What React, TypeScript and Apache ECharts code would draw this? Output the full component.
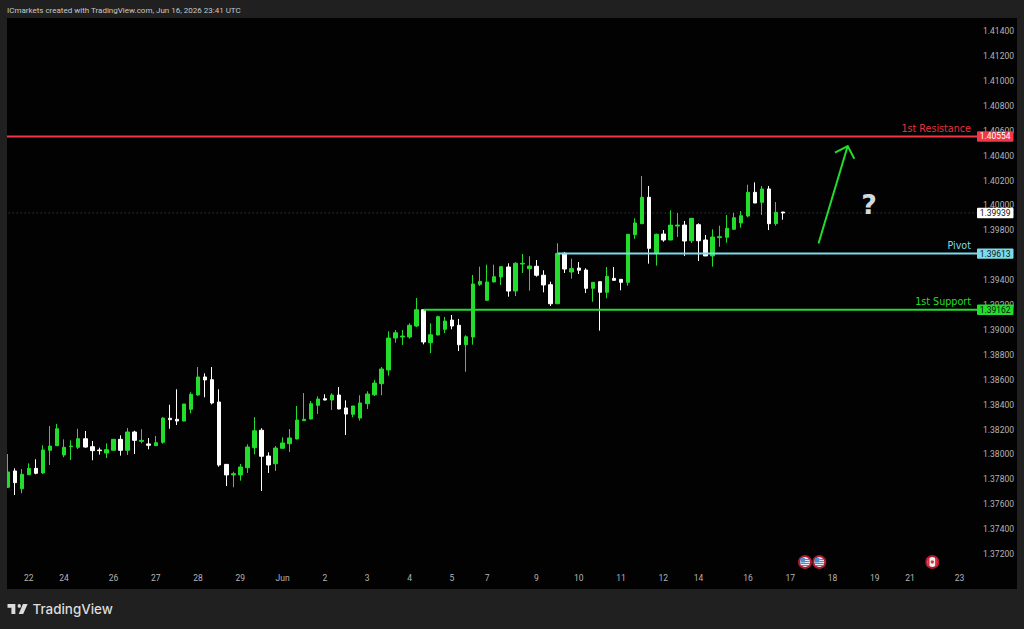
import React, { useEffect, useRef } from "react";
import * as echarts from "echarts";

const opens = [1.37736,1.37867,1.37724,1.37837,1.37888,1.37851,1.38033,1.3807,1.37995,1.38062,1.38057,1.38126,1.38062,1.38035,1.38011,1.38033,1.38121,1.38033,1.3818,1.38105,1.38084,1.3807,1.38097,1.3829,1.38282,1.38268,1.38362,1.38477,1.38622,1.386,1.38421,1.3792,1.37835,1.37835,1.37893,1.38054,1.38194,1.37987,1.37925,1.38049,1.38086,1.38124,1.38271,1.38284,1.38394,1.38447,1.38437,1.38477,1.38373,1.38322,1.38292,1.38407,1.38479,1.38568,1.38678,1.38935,1.38943,1.38943,1.39031,1.39162,1.38897,1.38959,1.39005,1.39079,1.39037,1.38881,1.38943,1.39366,1.39238,1.39385,1.39425,1.39505,1.39312,1.39529,1.39492,1.39511,1.39439,1.39363,1.3921,1.39615,1.39465,1.39497,1.39481,1.39334,1.39387,1.39302,1.39414,1.39406,1.39382,1.39765,1.39853,1.40065,1.39612,1.3977,1.39722,1.39834,1.39842,1.39716,1.39845,1.39722,1.39594,1.39741,1.39744,1.39808,1.39859,1.39915,1.40105,1.40025,1.40132,1.39853,1.39947];
const closes = [1.37859,1.37773,1.3784,1.37888,1.37848,1.38035,1.38067,1.38206,1.38057,1.38067,1.38126,1.38059,1.3803,1.3803,1.38038,1.38121,1.38033,1.3818,1.38113,1.38113,1.38073,1.38094,1.38292,1.38279,1.38268,1.38405,1.38483,1.38622,1.38598,1.38413,1.37915,1.37835,1.37845,1.37899,1.38059,1.3819,1.37985,1.37915,1.38051,1.38092,1.38132,1.38276,1.38282,1.38407,1.38445,1.38437,1.38477,1.38365,1.38324,1.38389,1.38413,1.38485,1.38573,1.38686,1.38935,1.38977,1.38951,1.39037,1.39162,1.38903,1.38961,1.39106,1.39071,1.39031,1.38881,1.38945,1.39369,1.3939,1.39385,1.39427,1.39508,1.39312,1.39535,1.39535,1.39513,1.39439,1.39361,1.3921,1.39615,1.39489,1.39492,1.39479,1.39334,1.39382,1.39302,1.3943,1.39398,1.39382,1.39768,1.39859,1.40065,1.39655,1.39768,1.39722,1.39842,1.39842,1.39714,1.39896,1.39716,1.39594,1.39746,1.39749,1.39816,1.39901,1.39917,1.40105,1.40019,1.40132,1.39853,1.39944,1.39939];
const lows = [1.3773,1.37674,1.37688,1.37835,1.3784,1.37843,1.37915,1.38067,1.37977,1.37955,1.38043,1.38054,1.37953,1.37998,1.37971,1.3803,1.3799,1.37995,1.38003,1.38089,1.38041,1.38067,1.38086,1.38206,1.38236,1.38266,1.3833,1.38471,1.38459,1.38402,1.37901,1.37746,1.37736,1.37789,1.37851,1.38001,1.37706,1.37851,1.37867,1.38049,1.38019,1.38121,1.38271,1.38282,1.38324,1.38434,1.38357,1.38362,1.38156,1.38298,1.38271,1.38365,1.38469,1.38475,1.38632,1.38897,1.38879,1.38929,1.39023,1.38884,1.38814,1.38957,1.38975,1.39005,1.3883,1.38664,1.38881,1.39353,1.39234,1.39382,1.39361,1.39267,1.39272,1.39457,1.39315,1.39427,1.39302,1.39192,1.3921,1.39457,1.39411,1.39449,1.39296,1.39226,1.38994,1.39254,1.39398,1.39318,1.39355,1.39732,1.39851,1.39532,1.39516,1.39708,1.39722,1.39746,1.39594,1.39698,1.39553,1.39594,1.39508,1.39668,1.397,1.39805,1.39821,1.39904,1.40019,1.39923,1.39802,1.39837,1.39885];
const highs = [1.38003,1.37888,1.37883,1.37928,1.37961,1.38073,1.38228,1.38244,1.38121,1.38113,1.38206,1.38188,1.38108,1.38054,1.38089,1.38124,1.38153,1.38212,1.3819,1.38202,1.38132,1.38148,1.383,1.38399,1.38523,1.38405,1.38499,1.38702,1.38651,1.38702,1.38523,1.37923,1.37861,1.37923,1.38081,1.383,1.3821,1.38017,1.38067,1.38137,1.38204,1.38389,1.38493,1.38429,1.38467,1.38483,1.38491,1.38541,1.38434,1.38389,1.38475,1.38507,1.38598,1.38702,1.38989,1.38999,1.38999,1.39053,1.39256,1.39165,1.39053,1.39114,1.39104,1.3912,1.39088,1.38957,1.39441,1.39508,1.39524,1.39524,1.39508,1.39535,1.39545,1.3961,1.39591,1.39561,1.39479,1.39387,1.39696,1.39626,1.39572,1.39545,1.39495,1.39385,1.39387,1.39505,1.39505,1.39409,1.3977,1.39896,1.40236,1.40156,1.39773,1.39802,1.39961,1.39939,1.39875,1.39899,1.39856,1.39762,1.39808,1.39837,1.39923,1.39941,1.39955,1.40166,1.40185,1.40156,1.40156,1.40027,1.39947];

const tickIndices = [3,8,15,21,27,33,39,45,51,57,63,68,75,81,87,93,98,105,111,117,123,128,135];
const tickLabels = ["22","24","26","27","28","29","Jun","2","3","4","5","7","9","10","11","12","14","16","17","18","19","21","23"];
const categories = Array.from({ length: 138 }, (_, i) => String(i));

const resistance = 1.40554;
const pivot = 1.39613;
const support = 1.39162;
const lastPrice = 1.39939;
const pivotStart = 78;
const supportStart = 59;
const hiddenPriceLabels = ["1.39600"];

const GREEN = "#22dd2c";
const RED = "#f23645";
const BLUE = "#7ddcea";
const yOf = (v: number) => 554 - (v - 1.372) * 12450;

const logoPath = "M14 6H0v6h7v10h7V6z M28 22H20L27.5 6H36L28 22z M18 9a3 3 0 1 0 6 0a3 3 0 1 0-6 0z";
echarts.graphic.registerShape("tvlogo", echarts.graphic.extendPath(logoPath, {}));

function badge(value: number, fill: string, textColor: string) {
  const y = yOf(value);
  return [
    { type: "rect", z: 60, shape: { x: 977, y: y - 5.2, width: 36.5, height: 10.4, r: 1 }, style: { fill } },
    {
      type: "text", z: 61, x: 995.2, y,
      style: { text: value.toFixed(5), fill: textColor, font: "8.5px Roboto", align: "center", verticalAlign: "middle" },
    },
  ];
}

function levelLabel(text: string, y: number, fill: string) {
  return {
    type: "text", z: 61, x: 971, y,
    style: { text, fill, font: '500 9.6px "DejaVu Sans"', align: "right", verticalAlign: "middle" },
  };
}

function usFlag(cx: number, cy: number) {
  const lines = [-3, -1, 1, 3].map((d) => ({
    type: "rect", z: 52,
    shape: { x: cx - (d < 0 ? 0 : 4.5) , y: cy + d, width: d < 0 ? 4.5 : 9, height: 0.9 },
    style: { fill: "#c9505c" },
  }));
  return [
    { type: "circle", z: 50, shape: { cx, cy, r: 6 }, style: { fill: "#e6ebf2", stroke: "#a81c2e", lineWidth: 2 } },
    ...lines,
    { type: "rect", z: 53, shape: { x: cx - 4.5, y: cy - 4, width: 4.5, height: 4.5 }, style: { fill: "#4b8fdc" } },
  ];
}

function caFlag(cx: number, cy: number) {
  return [
    { type: "circle", z: 50, shape: { cx, cy, r: 6 }, style: { fill: "#f0eeee", stroke: "#a81c2e", lineWidth: 2 } },
    { type: "rect", z: 52, shape: { x: cx - 5, y: cy - 4, width: 2.2, height: 8 }, style: { fill: "#d8303a" } },
    { type: "rect", z: 52, shape: { x: cx + 2.8, y: cy - 4, width: 2.2, height: 8 }, style: { fill: "#d8303a" } },
    { type: "circle", z: 53, shape: { cx, cy, r: 1.6 }, style: { fill: "#d8303a" } },
  ];
}

function levelSeries(name: string, value: number, start: number, color: string, width: number, type: any = "solid", z = 3) {
  return {
    name, type: "line", z, symbol: "none", silent: true, clip: true,
    data: [[start, value], [138, value]],
    lineStyle: { color, width, type },
  };
}

export default function App() {
  const ref = useRef<HTMLDivElement>(null);
  useEffect(() => {
    document.body.style.margin = "0";
    const chart = echarts.init(ref.current!, undefined, { renderer: "svg" });
    chart.setOption({
      animation: false,
      backgroundColor: "#1f201f",
      grid: { left: 4.175, top: 6.2, width: 972.9, height: 597.6, containLabel: false },
      xAxis: {
        type: "category", data: categories, min: 0, max: 137, boundaryGap: true,
        axisLine: { show: false }, axisTick: { show: false }, splitLine: { show: false },
        axisLabel: {
          inside: true, margin: 21, color: "#b4b4b4", fontSize: 8.5, fontFamily: "Roboto",
          interval: (i: number) => tickIndices.includes(i),
          formatter: (_: string, i: number) => tickLabels[tickIndices.indexOf(i)] ?? "",
        },
      },
      yAxis: {
        type: "value", position: "right", min: 1.368, max: 1.416, interval: 0.002,
        axisLine: { show: false }, axisTick: { show: false }, splitLine: { show: false },
        axisLabel: {
          margin: 6, color: "#b4b4b4", fontSize: 8.5, fontFamily: "Roboto",
          formatter: (v: number) => (v < 1.371 || v > 1.415 || hiddenPriceLabels.includes(v.toFixed(5)) ? "" : v.toFixed(5)),
        },
      },
      series: [
        levelSeries("Last", lastPrice, -1, "#555555", 1, [1, 3], 1),
        {
          type: "candlestick", z: 2, barWidth: 4,
          data: opens.map((o, i) => [o, closes[i], lows[i], highs[i]]),
          itemStyle: { color: GREEN, color0: "#ffffff", borderColor: GREEN, borderColor0: "#ffffff", borderWidth: 1 },
        },
        levelSeries("1st Resistance", resistance, -1, RED, 2),
        levelSeries("Pivot", pivot, pivotStart, BLUE, 2),
        levelSeries("1st Support", support, supportStart, GREEN, 2),
      ],
      graphic: [
        { type: "rect", z: -10, silent: true, shape: { x: 7, y: 18, width: 1010, height: 571 }, style: { fill: "#020203" } },
        { type: "rect", z: 40, silent: true, shape: { x: 0, y: 0, width: 7, height: 629 }, style: { fill: "#1f201f" } },
        {
          type: "text", z: 61, x: 7, y: 10,
          style: { text: "ICmarkets created with TradingView.com, Jun 16, 2026 23:41 UTC", fill: "#c8c8c8", font: "8px Roboto", verticalAlign: "middle" },
        },
        { type: "tvlogo", z: 61, x: 7.5, y: 600.3, scaleX: 0.56, scaleY: 0.62, style: { fill: "#dcdcdc" } },
        {
          type: "text", z: 61, x: 32.5, y: 609,
          style: { text: "TradingView", fill: "#dcdcdc", font: "500 13.4px Inter", verticalAlign: "middle" },
        },
        { type: "polyline", z: 55, shape: { points: [[818.5, 243.5], [847.7, 146]] }, style: { stroke: GREEN, lineWidth: 2, fill: "none" } },
        { type: "polyline", z: 55, shape: { points: [[835, 152.7], [847.7, 146], [854.3, 158.7]] }, style: { stroke: GREEN, lineWidth: 2, fill: "none" } },
        {
          type: "text", z: 55, x: 869, y: 204,
          style: { text: "?", fill: "#d4d9de", font: 'bold 27px "DejaVu Sans"', align: "center", verticalAlign: "middle" },
        },
        levelLabel("1st Resistance", 128, "#e8303f"),
        levelLabel("Pivot", 245, BLUE),
        levelLabel("1st Support", 301.7, GREEN),
        ...badge(resistance, RED, "#ffffff"),
        ...badge(pivot, BLUE, "#111111"),
        ...badge(support, GREEN, "#111111"),
        ...badge(lastPrice, "#ffffff", "#111111"),
        ...usFlag(805, 562),
        ...usFlag(819.3, 562),
        ...caFlag(932.3, 562),
      ],
    });
    return () => chart.dispose();
  }, []);
  return <div ref={ref} style={{ width: 1024, height: 629 }} />;
}
